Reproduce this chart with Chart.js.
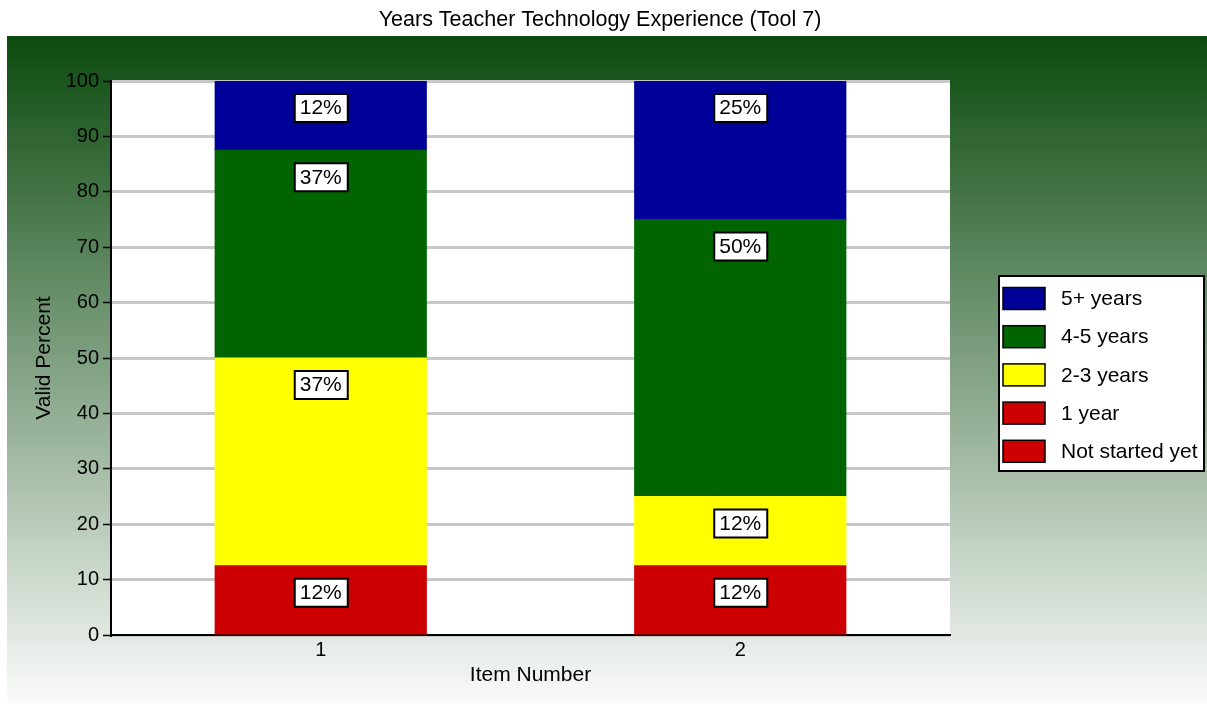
<!DOCTYPE html>
<html>
<head>
<meta charset="utf-8">
<script src="https://cdn.jsdelivr.net/npm/chart.js@4.4.1/dist/chart.umd.min.js"></script>
<style>
  html, body { margin: 0; padding: 0; background: #ffffff; }
  #wrap { width: 1207px; height: 704px; position: relative; }
</style>
</head>
<body>
<div id="wrap"><canvas id="chart" width="1207" height="704"></canvas></div>
<script>
const FONT = "'Liberation Sans', Arial, Helvetica, sans-serif"

const chartTitle = "Years Teacher Technology Experience (Tool 7)"
const items = ["1", "2"]
const seriesNames = ["Not started yet", "1 year", "2-3 years", "4-5 years", "5+ years"]
const seriesColors = ["#cc0000", "#cc0000", "#ffff00", "#006400", "#000099"]

const notStarted = [0, 0]
const oneYear = [12.5, 12.5]
const twoThree = [37.5, 12.5]
const fourFive = [37.5, 50]
const fivePlus = [12.5, 25]

const yTicks = [0, 10, 20, 30, 40, 50, 60, 70, 80, 90, 100]

const seriesValues = [notStarted, oneYear, twoThree, fourFive, fivePlus]

// green panel, white plot area and the title
const backdrop = {
  id: "backdrop",
  beforeDraw(chart) {
    const ctx = chart.ctx
    const area = chart.chartArea
    ctx.save()
    ctx.fillStyle = "#ffffff"
    ctx.fillRect(0, 0, chart.width, chart.height)
    const grad = ctx.createLinearGradient(0, 36, 0, 704)
    grad.addColorStop(0, "#0b4a0e")
    grad.addColorStop(1, "#fafbfa")
    ctx.fillStyle = grad
    ctx.fillRect(7, 36, chart.width - 7, chart.height - 36)
    ctx.fillStyle = "#ffffff"
    ctx.fillRect(area.left, area.top, area.right - area.left, area.bottom - area.top)
    ctx.fillStyle = "#000000"
    ctx.font = "21.5px " + FONT
    ctx.textAlign = "center"
    ctx.textBaseline = "middle"
    ctx.fillText(chartTitle, 600, 20)
    ctx.restore()
  },
}

// boxed percent labels near the top of each segment
const segmentLabels = {
  id: "segmentLabels",
  afterDatasetsDraw(chart) {
    const ctx = chart.ctx
    ctx.save()
    ctx.font = "21px " + FONT
    ctx.textAlign = "center"
    ctx.textBaseline = "middle"
    chart.data.datasets.forEach((ds, i) => {
      const meta = chart.getDatasetMeta(i)
      meta.data.forEach((bar, j) => {
        const v = ds.data[j]
        if (!v) return
        const w = 54, h = 29
        const x = bar.x - w / 2
        const y = bar.y + 12
        ctx.fillStyle = "#000000"
        ctx.fillRect(x, y, w + 1, h + 1)
        ctx.fillStyle = "#ffffff"
        ctx.fillRect(x + 2, y + 2, w - 3, h - 3)
        ctx.fillStyle = "#000000"
        ctx.fillText(Math.floor(v) + "%", bar.x, y + h / 2 + 1)
      })
    })
    ctx.restore()
  },
}

// legend box on the right, top series first
const sideLegend = {
  id: "sideLegend",
  afterDraw(chart) {
    const ctx = chart.ctx
    ctx.save()
    ctx.fillStyle = "#ffffff"
    ctx.fillRect(999, 276, 205, 195)
    ctx.strokeStyle = "#000000"
    ctx.lineWidth = 2
    ctx.strokeRect(999, 276, 205, 195)
    ctx.font = "21px " + FONT
    ctx.textBaseline = "middle"
    ctx.textAlign = "left"
    const order = chart.data.datasets.slice().reverse()
    order.forEach((ds, k) => {
      const cy = 298.5 + k * 38.2
      ctx.fillStyle = ds.backgroundColor
      ctx.fillRect(1003, cy - 11, 42, 22)
      ctx.lineWidth = 1.5
      ctx.strokeRect(1003, cy - 11, 42, 22)
      ctx.fillStyle = "#000000"
      ctx.fillText(ds.label, 1061, cy + 1)
    })
    ctx.restore()
  },
}

const datasets = seriesNames.map((name, i) => ({
  label: name,
  data: seriesValues[i],
  backgroundColor: seriesColors[i],
  borderWidth: 0,
  inflateAmount: 0.6,
  barPercentage: 0.503,
  categoryPercentage: 1,
}))

new Chart(document.getElementById("chart"), {
  type: "bar",
  data: { labels: items, datasets: datasets },
  options: {
    responsive: false,
    animation: false,
    layout: { padding: { left: 0, top: 81, right: 257, bottom: 0 } },
    plugins: {
      legend: { display: false },
      title: { display: false },
      tooltip: { enabled: false },
    },
    scales: {
      x: {
        stacked: true,
        afterFit(scale) { scale.height = 69 },
        grid: { display: false, drawTicks: false },
        border: { display: true, color: "#000000", width: 2 },
        ticks: { color: "#000000", font: { family: FONT, size: 20 }, padding: 3 },
        title: {
          display: true,
          text: "Item Number",
          color: "#000000",
          font: { family: FONT, size: 21 },
          padding: { top: 0, bottom: 16 },
        },
      },
      y: {
        stacked: true,
        min: 0,
        max: 100,
        afterFit(scale) { scale.width = 111 },
        afterBuildTicks(scale) { scale.ticks = yTicks.map(v => ({ value: v })) },
        grid: { color: "#c8c8c8", lineWidth: 3, tickColor: "#000000", tickWidth: 1.5, tickLength: 8 },
        border: { display: true, color: "#000000", width: 2 },
        ticks: { color: "#000000", font: { family: FONT, size: 20 }, padding: 4 },
        title: {
          display: true,
          text: "Valid Percent",
          color: "#000000",
          font: { family: FONT, size: 21 },
          padding: { top: 32, bottom: 0 },
        },
      },
    },
  },
  plugins: [backdrop, segmentLabels, sideLegend],
})
</script>
</body>
</html>
